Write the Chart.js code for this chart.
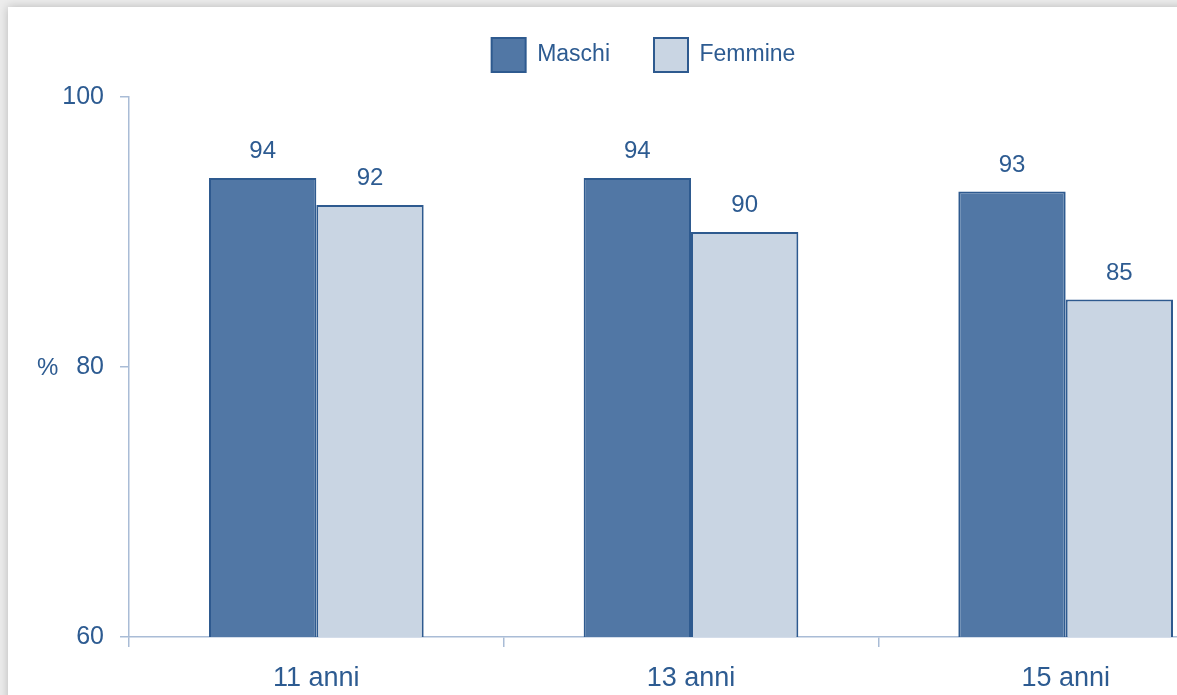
<!DOCTYPE html>
<html>
<head>
<meta charset="utf-8">
<script src="https://cdn.jsdelivr.net/npm/chart.js@4.4.0/dist/chart.umd.min.js"></script>
<style>
  html, body { margin: 0; padding: 0; width: 1177px; height: 695px; overflow: hidden; background: #ececec; }
  #card { position: absolute; left: 8px; top: 7px; width: 1400px; height: 900px; background: #fff; box-shadow: 0 0 9px rgba(0,0,0,0.22); }
  #wrap { position: absolute; left: 0; top: -6px; width: 1290px; height: 701px; }
</style>
</head>
<body>
<div id="card"></div>
<div id="wrap"><canvas id="myChart"></canvas></div>
<script>
// dati
var categorie = ["11 anni", "13 anni", "15 anni"];
var maschi = [94, 94, 93];
var femmine = [92, 90, 85];
var yTicks = [60, 80, 100];

var blu = '#2d5b91';
var assi = '#a9bcd6';
var font = "'Liberation Sans', Arial, sans-serif";

// etichette sopra le barre + "%" vicino all'asse
var etichette = {
	id: 'etichette',
	afterDatasetsDraw: function (chart) {
		var ctx = chart.ctx;
		ctx.save();
		ctx.fillStyle = blu;
		ctx.font = '24px ' + font;
		ctx.textAlign = 'center';
		ctx.textBaseline = 'alphabetic';
		chart.data.datasets.forEach(function (ds, i) {
			chart.getDatasetMeta(i).data.forEach(function (bar, j) {
				ctx.fillText(ds.data[j], bar.x, bar.y - 20);
			});
		});
		var y80 = chart.scales.y.getPixelForValue(80);
		ctx.textAlign = 'left';
		ctx.textBaseline = 'middle';
		ctx.fillText('%', 37, y80 + 1);
		ctx.restore();
	}
};

var ctx = document.getElementById("myChart").getContext('2d');
var myChart = new Chart(ctx, {
	type: 'bar',
	data: {
		labels: categorie,
		datasets: [{
			label: 'Maschi',
			data: maschi,
			backgroundColor: '#5177a5',
			borderColor: '#2e5a8f',
			borderWidth: 2,
			borderSkipped: false
		}, {
			label: 'Femmine',
			data: femmine,
			backgroundColor: '#c9d5e3',
			borderColor: '#2e5a8f',
			borderWidth: 2,
			borderSkipped: false
		}]
	},
	options: {
		responsive: true,
		maintainAspectRatio: false,
		animation: false,
		layout: { padding: { top: 0, right: 37, left: 34, bottom: 0 } },
		datasets: { bar: { categoryPercentage: 0.573, barPercentage: 1.0 } },
		plugins: {
			tooltip: { enabled: false },
			legend: {
				position: 'top',
				labels: {
					boxWidth: 34,
					boxHeight: 34,
					padding: 44,
					color: blu,
					font: { size: 23, family: font }
				}
			},
			// spazio vuoto tra legenda e grafico
			title: {
				display: true,
				text: ' ',
				position: 'top',
				weight: 500,
				padding: 0,
				font: { size: 10, lineHeight: 1.5 }
			}
		},
		scales: {
			x: {
				afterFit: function (s) { s.height = 58; },
				grid: { display: true, drawOnChartArea: false, offset: true, tickLength: 10, color: assi, lineWidth: 1.5 },
				border: { color: assi, width: 1.5 },
				ticks: { color: blu, font: { size: 27, family: font }, padding: 15 }
			},
			y: {
				min: 60,
				max: 100,
				afterFit: function (s) { s.width = 95; },
				afterBuildTicks: function (s) { s.ticks = yTicks.map(function (v) { return { value: v }; }); },
				grid: { display: true, drawOnChartArea: false, tickLength: 9, color: assi, lineWidth: 1.5 },
				border: { color: assi, width: 1.5 },
				ticks: { color: blu, font: { size: 25, family: font }, padding: 16 }
			}
		}
	},
	plugins: [etichette]
});
</script>
</body>
</html>
